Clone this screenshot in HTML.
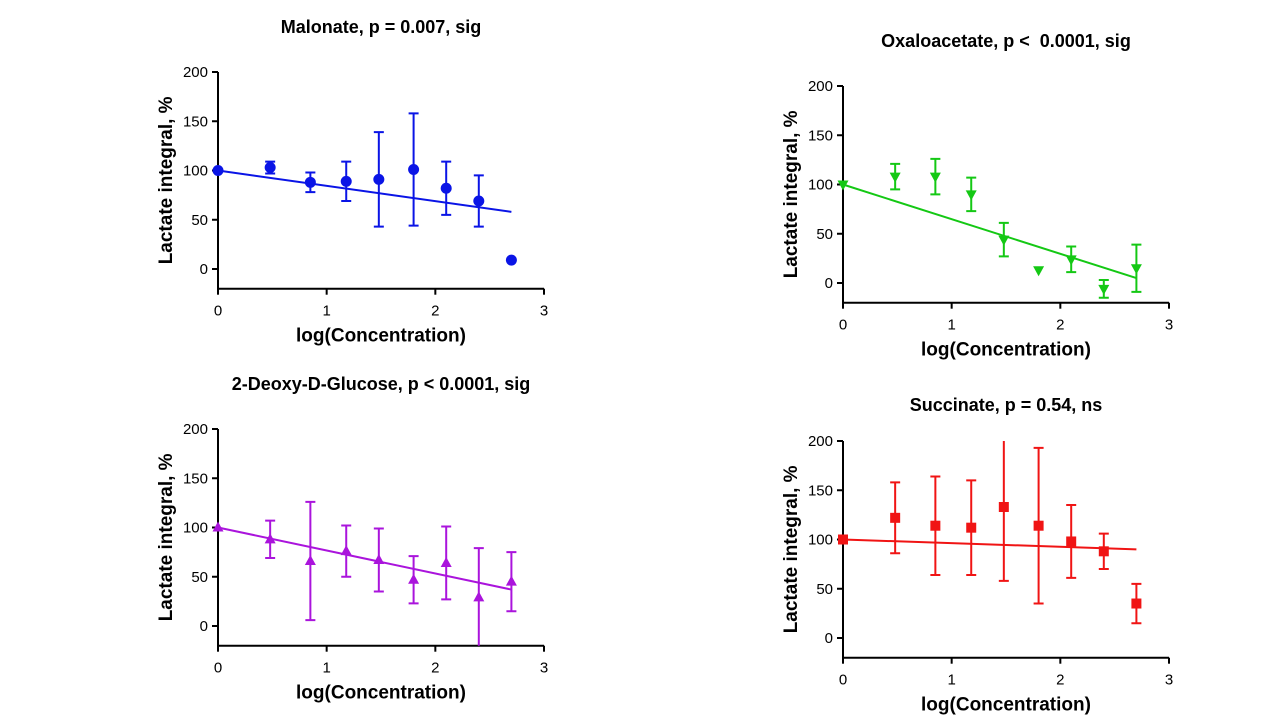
<!DOCTYPE html>
<html><head><meta charset="utf-8"><style>
body{margin:0;background:#fff;}
svg{display:block;font-family:"Liberation Sans",Arial,sans-serif;}
text{white-space:pre;}
</style></head><body>
<svg id="c" width="1280" height="720"></svg>
<script>
const xs=[0,0.48,0.85,1.18,1.48,1.8,2.1,2.4,2.7];
const yTicks=[0,50,100,150,200];
const xTicks=[0,1,2,3];
const malMean=[100,103,88,89,91,101,82,69,9];
const malErr=[0,6,10,20,48,57,27,26,0];
const malLine=[100,58];
const oxaMean=[100,108,108,90,44,13,24,-6,15];
const oxaErr=[0,13,18,17,17,0,13,9,24];
const oxaLine=[100,5];
const dgMean=[100,88,66,76,67,47,64,29,45];
const dgErr=[0,19,60,26,32,24,37,50,30];
const dgLine=[100,37];
const sucMean=[100,122,114,112,133,114,98,88,35];
const sucErr=[0,36,50,48,75,79,37,18,20];
const sucLine=[100,90];
const panels=[
 {name:'malonate',title:'Malonate, p = 0.007, sig',x0:218,y0:72,color:'#0a14e6',mk:'circle',m:malMean,e:malErr,l:malLine,ty:33},
 {name:'oxaloacetate',title:'Oxaloacetate, p <\u00a0 0.0001, sig',x0:843,y0:86,color:'#14c814',mk:'tridown',m:oxaMean,e:oxaErr,l:oxaLine,ty:47},
 {name:'deoxyglucose',title:'2-Deoxy-D-Glucose, p < 0.0001, sig',x0:218,y0:429,color:'#aa14dc',mk:'triup',m:dgMean,e:dgErr,l:dgLine,ty:390},
 {name:'succinate',title:'Succinate, p = 0.54, ns',x0:843,y0:441,color:'#f01414',mk:'square',m:sucMean,e:sucErr,l:sucLine,ty:411}
];
const svg=document.getElementById('c');const NS='http://www.w3.org/2000/svg';
function mk(t,a,p){const e=document.createElementNS(NS,t);for(const k in a)e.setAttribute(k,a[k]);(p||svg).appendChild(e);return e;}
panels.forEach(P=>{
 const g=mk('g',{});
 
 
 const W=326/3, H=197/200;
 const X=v=>P.x0+v*W, Y=v=>P.y0+(200-v)*H;
 const bottom=Y(-20);
 const t=mk('text',{x:X(1.5),y:P.ty,'text-anchor':'middle','font-size':18,'font-weight':'bold'},g);
 t.textContent=P.title;
 
 
 const ax=mk('path',{d:`M${X(0)},${P.y0}V${bottom}H${X(3)}`,stroke:'#000','stroke-width':2,fill:'none'},g);
 
 
 yTicks.forEach(v=>{mk('line',{x1:X(0)-6,x2:X(0),y1:Y(v),y2:Y(v),stroke:'#000','stroke-width':2},g);
  const tl=mk('text',{x:X(0)-10,y:Y(v)+5,'text-anchor':'end','font-size':15},g);tl.textContent=v;
  
  });
 xTicks.forEach(v=>{mk('line',{x1:X(v),x2:X(v),y1:bottom,y2:bottom+6,stroke:'#000','stroke-width':2},g);
  const tl=mk('text',{x:X(v),y:bottom+27,'text-anchor':'middle','font-size':15},g);tl.textContent=v;
  
  });
 const xt=mk('text',{x:X(1.5),y:bottom+53,'text-anchor':'middle','font-size':19,'font-weight':'bold'},g);xt.textContent='log(Concentration)';
 
 
 const yc=(P.y0+bottom)/2, yx=P.x0-46;
 const yt=mk('text',{x:yx,y:yc,'text-anchor':'middle','font-size':19,'font-weight':'bold',transform:`rotate(-90 ${yx} ${yc})`},g);yt.textContent='Lactate integral, %';
 
 
 const fl=mk('line',{x1:X(0),y1:Y(P.l[0]),x2:X(2.7),y2:Y(P.l[1]),stroke:P.color,'stroke-width':2},g);
 
 
 const clip=v=>Math.max(-20,Math.min(200,v));
 xs.forEach((xv,i)=>{
  const cx=X(xv), cy=Y(P.m[i]), e=P.e[i];
  if(e>0){const hi=P.m[i]+e, lo=P.m[i]-e;
   const eb=mk('path',{d:`M${cx},${Y(clip(hi))}V${Y(clip(lo))}`+(hi<=200?`M${cx-5},${Y(hi)}h10`:'')+(lo>=-20?`M${cx-5},${Y(lo)}h10`:''),stroke:P.color,'stroke-width':2,fill:'none'},g);
   
   }
  let m;
  if(P.mk==='circle')m=mk('circle',{cx,cy,r:5.5,fill:P.color},g);
  else if(P.mk==='square')m=mk('rect',{x:cx-5,y:cy-5,width:10,height:10,fill:P.color},g);
  else if(P.mk==='triup')m=mk('path',{d:`M${cx},${cy-6}L${cx+5.5},${cy+4}L${cx-5.5},${cy+4}Z`,fill:P.color},g);
  else m=mk('path',{d:`M${cx},${cy+6}L${cx+5.5},${cy-4}L${cx-5.5},${cy-4}Z`,fill:P.color},g);
  
  
 });
});
</script>
</body></html>
